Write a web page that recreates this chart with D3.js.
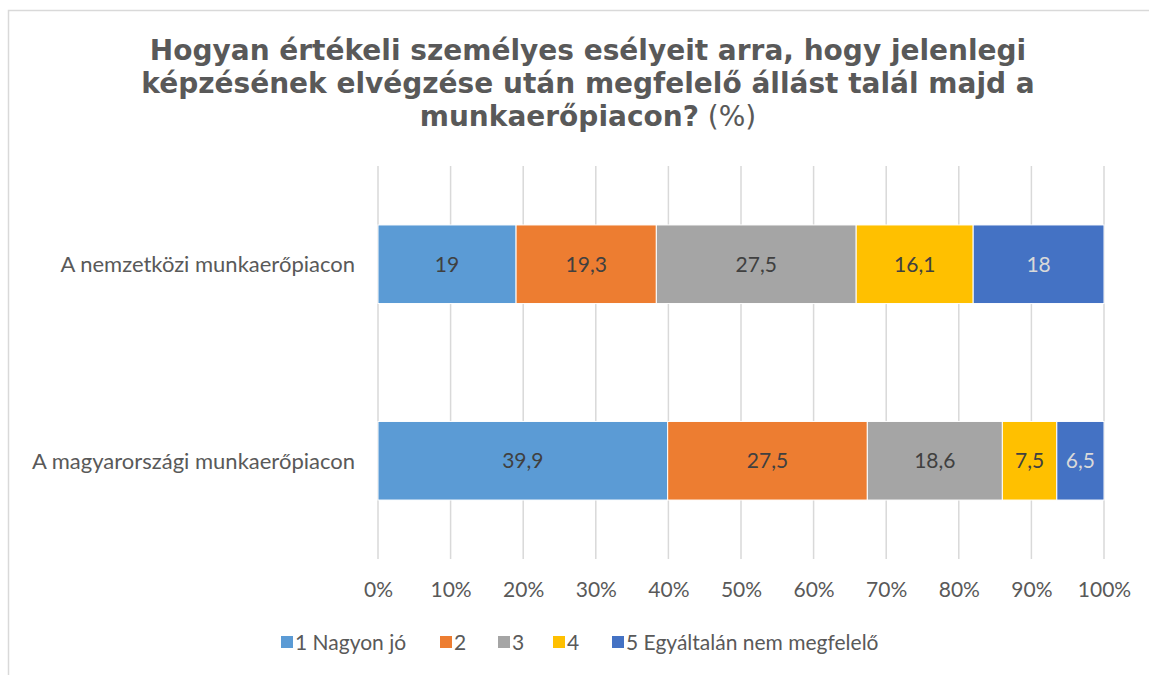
<!DOCTYPE html>
<html>
<head>
<meta charset="UTF-8">
<style>
  body { margin: 0; background: #fff; }
  svg { display: block; }
  .lbl { font-family: Lato, sans-serif; }
</style>
</head>
<body>
<svg></svg>
<script src="https://d3js.org/d3.v7.min.js"></script>
<script>

let width = 1149,
    height = 675;

let categories = ["A nemzetközi munkaerőpiacon", "A magyarországi munkaerőpiacon"];
let seriesNames = ["1 Nagyon jó", "2", "3", "4", "5 Egyáltalán nem megfelelő"];
let seriesColors = ["#5b9bd5", "#ed7d31", "#a5a5a5", "#ffc000", "#4472c4"];
let labelColors = ["#404040", "#404040", "#404040", "#404040", "#d9d9d9"];
let values = [
  [19, 19.3, 27.5, 16.1, 18],
  [39.9, 27.5, 18.6, 7.5, 6.5]
];
let tickValues = [0, 0.1, 0.2, 0.3, 0.4, 0.5, 0.6, 0.7, 0.8, 0.9, 1];
let titleLines = [
  "Hogyan értékeli személyes esélyeit arra, hogy jelenlegi",
  "képzésének elvégzése után megfelelő állást talál majd a",
  "munkaerőpiacon?"
];

let svg = d3.select("svg")
    .attr("width", width)
    .attr("height", height);

// chart border (only top and left visible in the crop)
svg.append("path")
    .attr("d", "M8.5," + height + "V10.5H" + width)
    .attr("fill", "none")
    .attr("stroke", "#d9d9d9")
    .attr("stroke-width", 1.5);

// title
let title = svg.append("text")
    .attr("text-anchor", "middle")
    .attr("font-family", "DejaVu Sans, sans-serif")
    .attr("font-weight", "bold")
    .attr("font-size", 28)
    .attr("fill", "#595959");

titleLines.forEach((t, i) => {
  title.append("tspan")
      .attr("x", 588)
      .attr("y", 60 + i * 33)
      .text(t);
  if (i == titleLines.length - 1) {
    title.append("tspan").attr("font-weight", "normal").text(" (%)");
  }
});

let x = d3.scaleLinear().domain([0, 1]).range([378, 1104]);
let y = d3.scaleBand().domain(categories).range([166, 559]).paddingInner(0.6).paddingOuter(0.3);

// gridlines
svg.append("g")
  .selectAll("line")
  .data(tickValues)
  .enter()
  .append("line")
    .attr("x1", d => x(d))
    .attr("x2", d => x(d))
    .attr("y1", 166)
    .attr("y2", 559)
    .attr("stroke", "#d9d9d9")
    .attr("stroke-width", 1.5);

// stacked bars
let rows = categories.map((c, i) => {
  let total = d3.sum(values[i]);
  let acc = 0;
  return values[i].map((v, j) => {
    let seg = {cat: c, s: j, v: v, x0: acc / total, x1: (acc + v) / total};
    acc += v;
    return seg;
  });
}).flat();

svg.append("g")
  .selectAll("rect")
  .data(rows)
  .enter()
  .append("rect")
    .attr("x", d => x(d.x0))
    .attr("width", d => x(d.x1) - x(d.x0))
    .attr("y", d => y(d.cat))
    .attr("height", y.bandwidth())
    .attr("fill", d => seriesColors[d.s])
    .attr("stroke", "#fff")
    .attr("stroke-width", 1);

svg.append("g")
  .selectAll("text")
  .data(rows)
  .enter()
  .append("text")
    .attr("class", "lbl")
    .attr("x", d => (x(d.x0) + x(d.x1)) / 2)
    .attr("y", d => y(d.cat) + y.bandwidth() / 2)
    .attr("dy", "0.36em")
    .attr("text-anchor", "middle")
    .attr("font-size", 21)
    .attr("fill", d => labelColors[d.s])
    .text(d => String(d.v).replace(".", ","));

// category labels
svg.append("g")
  .selectAll("text")
  .data(categories)
  .enter()
  .append("text")
    .attr("class", "lbl")
    .attr("x", 355)
    .attr("y", d => y(d) + y.bandwidth() / 2)
    .attr("dy", "0.36em")
    .attr("text-anchor", "end")
    .attr("font-size", 22)
    .attr("fill", "#595959")
    .text(d => d);

// x axis labels
let axis = svg.append("g")
    .attr("transform", "translate(0,582)")
    .call(d3.axisBottom(x).tickValues(tickValues).tickFormat(d3.format(".0%")).tickSize(0).tickPadding(0));
axis.select(".domain").remove();
axis.selectAll("text")
    .attr("class", "lbl")
    .attr("font-size", 21)
    .attr("fill", "#595959");

// legend
let legendX = [281, 440, 498, 553, 612];
let legend = svg.append("g")
  .selectAll("g")
  .data(seriesNames)
  .enter()
  .append("g")
    .attr("transform", (d, i) => "translate(" + legendX[i] + ",642)");
legend.append("rect")
    .attr("x", 0)
    .attr("y", -6)
    .attr("width", 12)
    .attr("height", 12)
    .attr("fill", (d, i) => seriesColors[i]);
legend.append("text")
    .attr("class", "lbl")
    .attr("x", 14)
    .attr("dy", "0.36em")
    .attr("font-size", 21)
    .attr("fill", "#595959")
    .text(d => d);

</script>
</body>
</html>
